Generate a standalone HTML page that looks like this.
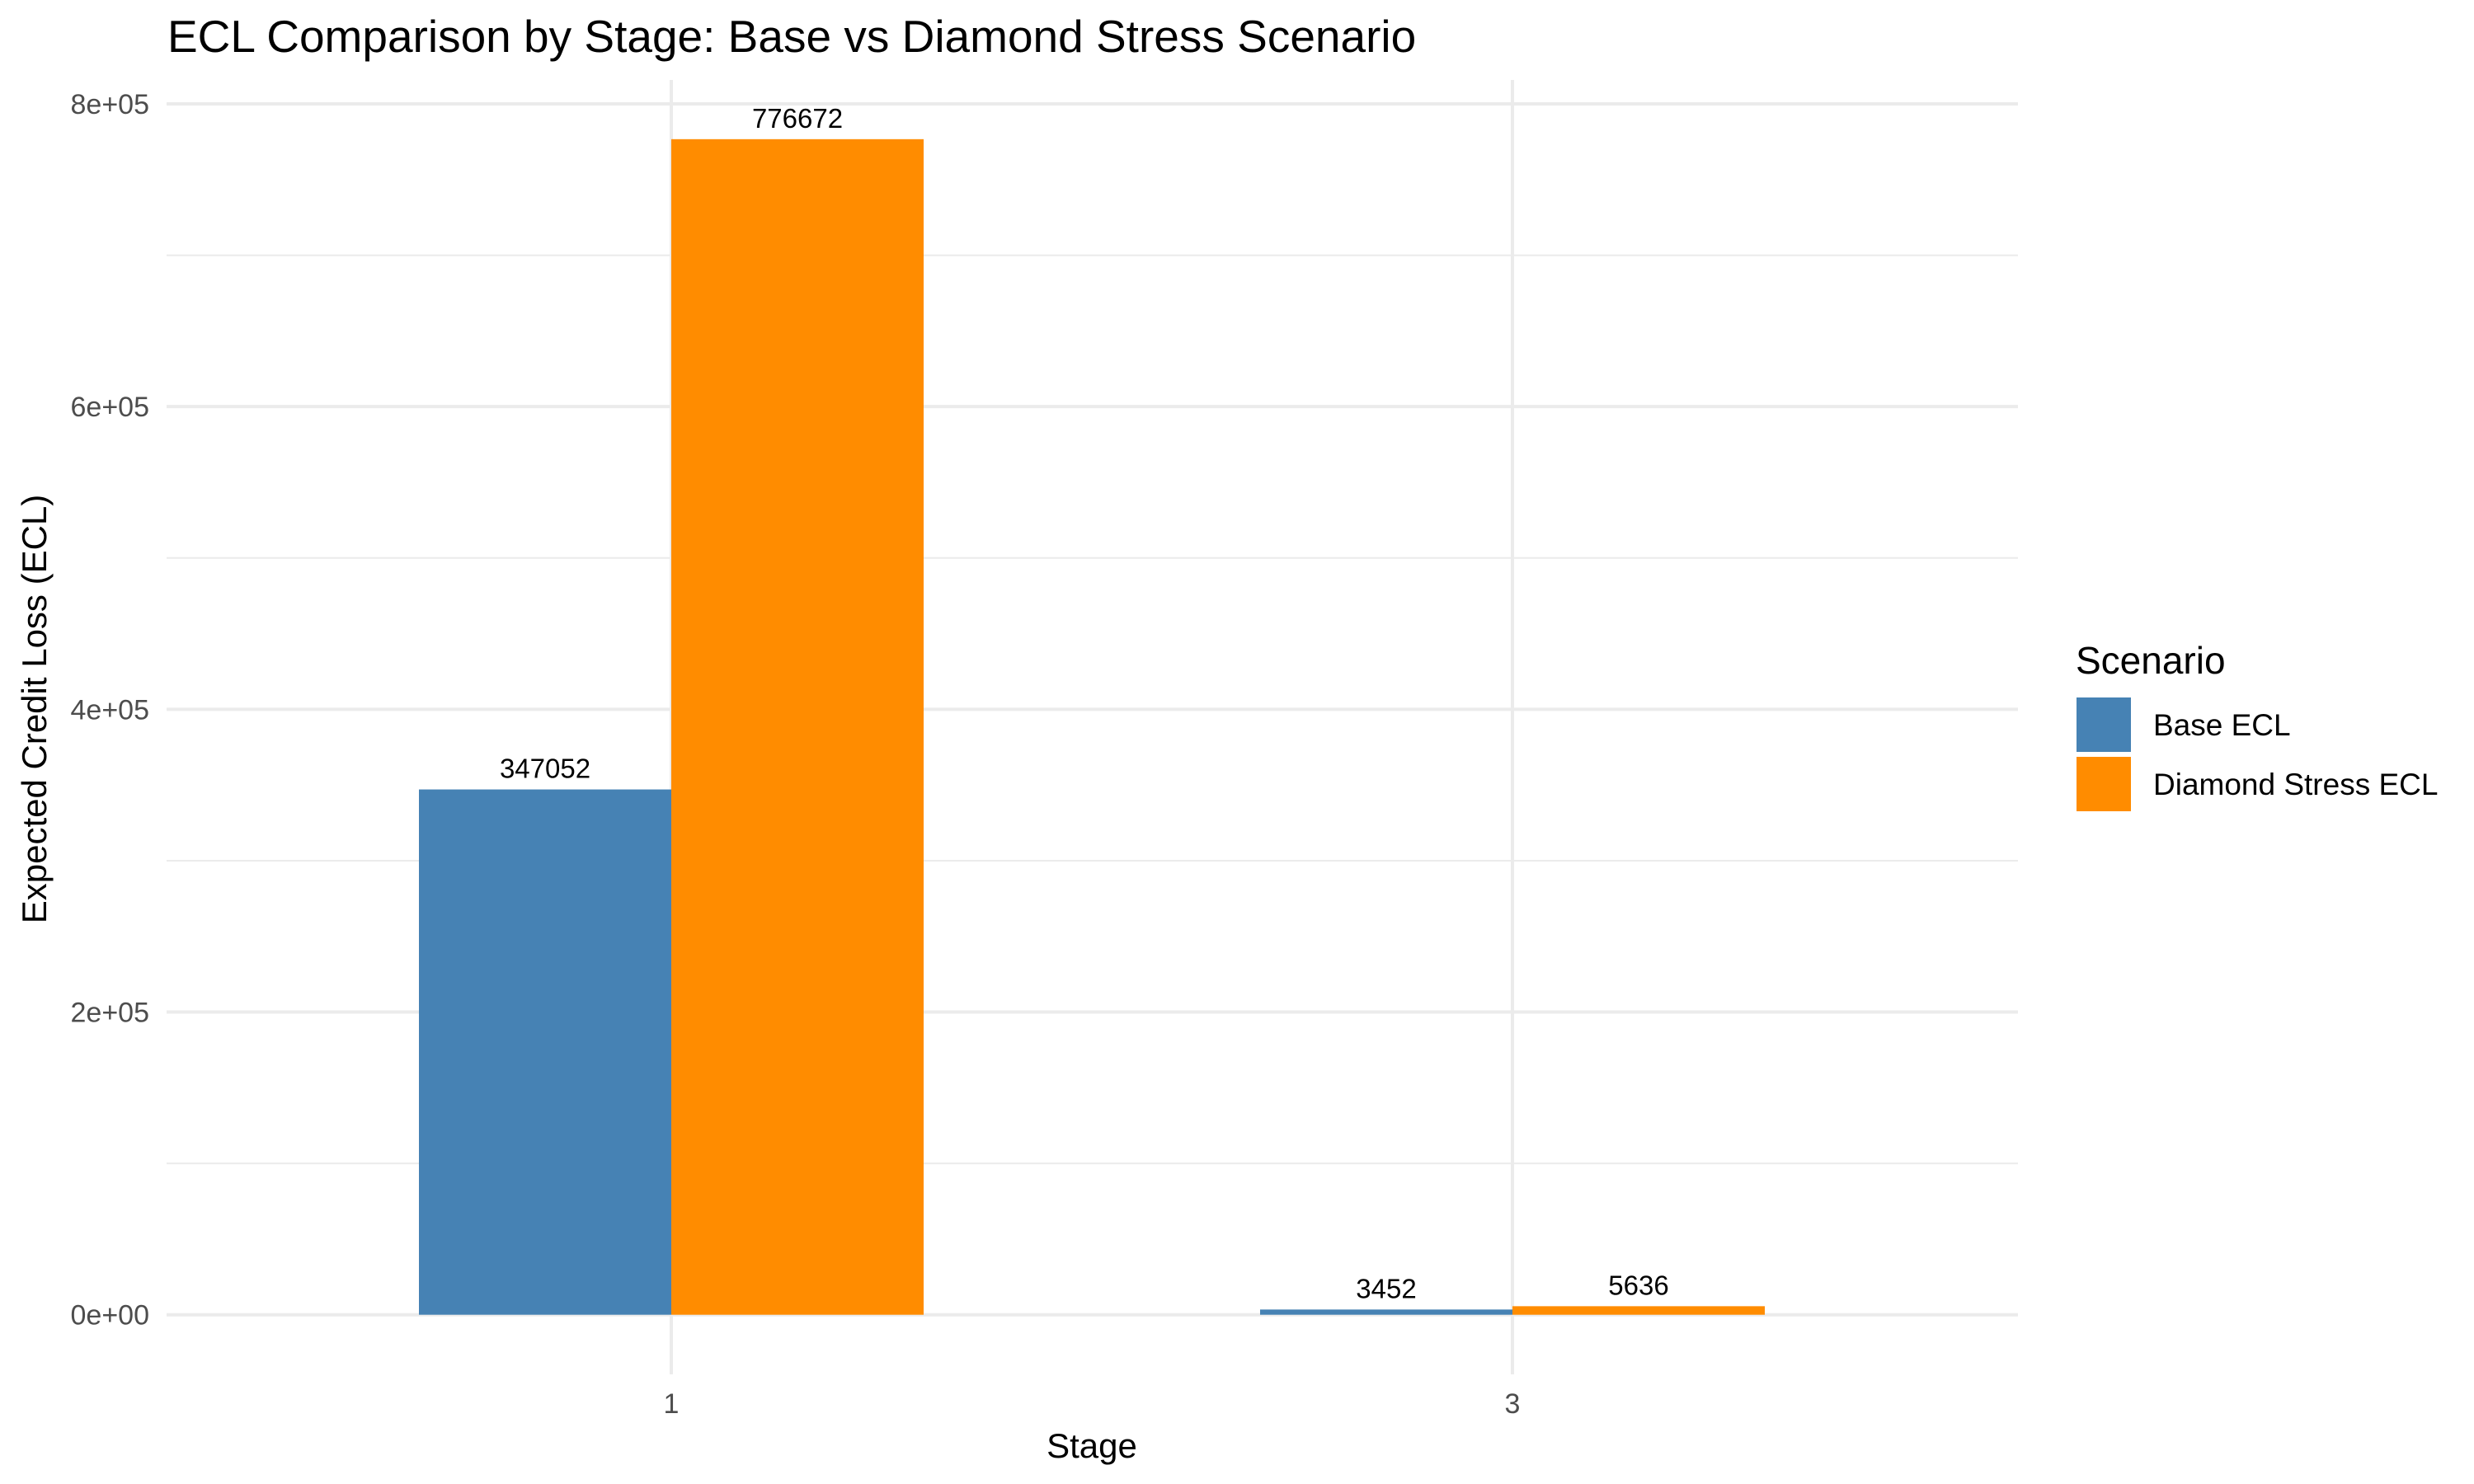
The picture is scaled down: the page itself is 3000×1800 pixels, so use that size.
<!DOCTYPE html>
<html><head><meta charset="utf-8"><style>
html,body{margin:0;padding:0;background:#fff;}
svg{display:block;font-family:"Liberation Sans",Arial,sans-serif;}
</style></head><body>
<svg id="chart" width="3000" height="1800" viewBox="0 0 3000 1800">
<text x="203" y="63" font-size="55" fill="#000">ECL Comparison by Stage: Base vs Diamond Stress Scenario</text>
<g id="grid"></g><g id="bars"></g><g id="labels"></g><g id="axes"></g>
<text x="1324" y="1768" font-size="42" text-anchor="middle" fill="#000">Stage</text>
<text transform="translate(56,860) rotate(-90)" font-size="42" text-anchor="middle" fill="#000">Expected Credit Loss (ECL)</text>
<g>
<text x="2517" y="817" font-size="46" fill="#000">Scenario</text>
<rect x="2518" y="846" width="66" height="66" fill="#4682B4"/>
<text x="2611" y="892" font-size="37" fill="#000">Base ECL</text>
<rect x="2518" y="918" width="66" height="66" fill="#FF8C00"/>
<text x="2611" y="964" font-size="37" fill="#000">Diamond Stress ECL</text>
</g>
</svg>
<script>
const stages = ["1", "3"];
const baseValues = [347052, 3452];
const stressValues = [776672, 5636];
const yTicks = [0, 200000, 400000, 600000, 800000];
const yTickLabels = ["0e+00", "2e+05", "4e+05", "6e+05", "8e+05"];
const yMinor = [100000, 300000, 500000, 700000];

const NS = "http://www.w3.org/2000/svg";
const panelL = 202, panelR = 2447, panelT = 97, panelB = 1667;
const y0 = 1594.7, pxPerUnit = (1594.7 - 126) / 800000;
function yScale(v) { return y0 - v * pxPerUnit; }
const x1 = 814, x3 = 1834;
function xScale(i) { return x1 + i * (x3 - x1); }
const barW = 306;
function mk(tag, attrs, parent) {
  const e = document.createElementNS(NS, tag);
  for (const k in attrs) e.setAttribute(k, attrs[k]);
  parent.appendChild(e);
  return e;
}
const grid = document.getElementById('grid');
const bars = document.getElementById('bars');
const labels = document.getElementById('labels');
const axes = document.getElementById('axes');

yMinor.forEach(v => {
  const l = mk('line', {x1: panelL, x2: panelR, y1: yScale(v), y2: yScale(v), stroke: '#ebebeb', 'stroke-width': 2}, grid);
  
  
});
yTicks.forEach((v, i) => {
  const l = mk('line', {x1: panelL, x2: panelR, y1: yScale(v), y2: yScale(v), stroke: '#ebebeb', 'stroke-width': 4}, grid);
  
  
  const t = mk('text', {x: 181, y: yScale(v) + 12, 'font-size': 34, 'text-anchor': 'end', fill: '#4d4d4d'}, axes);
  t.textContent = yTickLabels[i];
  
  
});
stages.forEach((s, i) => {
  const cx = xScale(i);
  const l = mk('line', {x1: cx, x2: cx, y1: panelT, y2: panelB, stroke: '#ebebeb', 'stroke-width': 4}, grid);
  
  
  const t = mk('text', {x: cx, y: 1714, 'font-size': 34, 'text-anchor': 'middle', fill: '#4d4d4d'}, axes);
  t.textContent = s;
  
  

  [[baseValues[i], '#4682B4', cx - barW, 'base'], [stressValues[i], '#FF8C00', cx, 'stress']].forEach(([v, c, x, n]) => {
    const r = mk('rect', {x: x, y: yScale(v), width: barW, height: y0 - yScale(v), fill: c}, bars);
    
    
    const tl = mk('text', {x: x + barW / 2, y: yScale(v) - 14, 'font-size': 33, 'text-anchor': 'middle', fill: '#000'}, labels);
    tl.textContent = String(v);
    
    
  });
});
</script>
</body></html>
